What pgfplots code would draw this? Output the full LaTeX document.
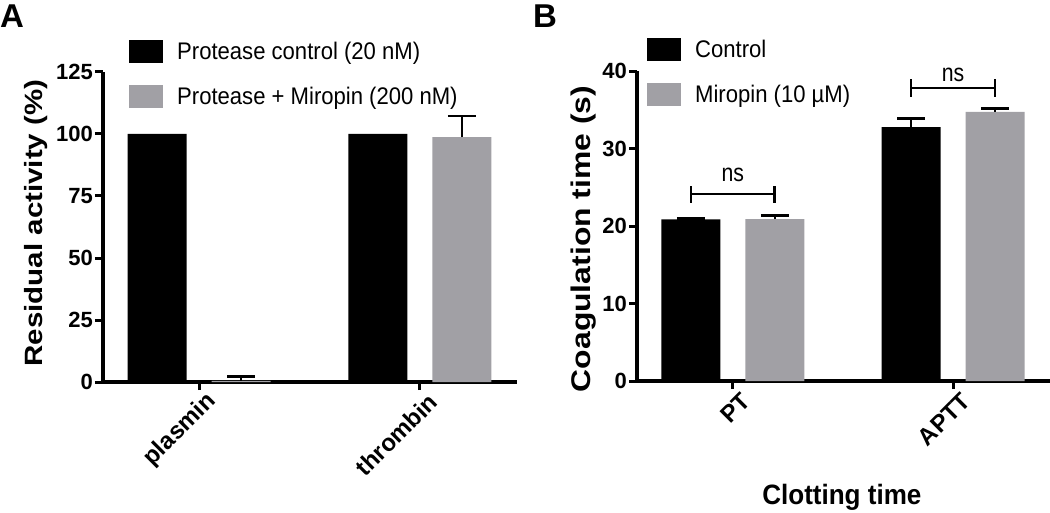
\documentclass[border=0pt]{standalone}
\usepackage{fontspec}
\usepackage{graphicx}
\setmainfont{Liberation Sans}
\newfontfamily\legfont{Liberation Sans}[FakeStretch=0.92]
\newfontfamily\nsfont{Liberation Sans}[FakeStretch=0.85]
\usepackage{pgfplots}
\pgfplotsset{compat=1.18}
\definecolor{barg}{RGB}{161,160,165}

\pgfplotsset{
  panel/.style={
    scale only axis,
    anchor=south west,
    axis x line*=bottom, axis y line*=left,
    axis line style={line width=4pt, -},
    every outer x axis line/.append style={line width=4pt},
    every outer y axis line/.append style={line width=4pt},
    tick align=outside, major tick length=8pt,
    tick style={line width=3pt, black},
    major tick style={line width=3pt, black},
    minor tick num=0,
    xmin=-0.435, xmax=1.44, ymin=0,
    xtick={0,1},
    ybar, bar width=59pt,
    clip=false,
    /pgf/number format/assume math mode=true,
    yticklabel style={font=\fontsize{22}{22}\selectfont\bfseries, inner sep=2pt},
    xticklabel style={font=\fontsize{24}{24}\selectfont\bfseries, rotate=45, anchor=east, inner sep=2pt, xshift=6pt, yshift=-15pt},
    legend cell align=left,
    legend style={draw=none, fill=none, at={(0,1)}, anchor=north west,
      font=\fontsize{24}{24}\selectfont\legfont, inner sep=0pt,
      column sep=14pt, row sep=22pt, nodes={inner sep=0pt}},
  },
  ebar/.style={error bars/.cd, y dir=plus, y explicit,
      error bar style={line width=2.5pt, black},
      error mark options={rotate=90, line width=2.5pt, black, mark size=14pt}},
  blackbar/.style={fill=black, draw=none, bar shift=-42pt,
      legend image code/.code={\fill[black] (0pt,-11.5pt) rectangle (34pt,11.5pt);}},
  graybar/.style={fill=barg, draw=none, bar shift=42pt,
      legend image code/.code={\fill[barg] (0pt,-11.5pt) rectangle (34pt,11.5pt);}},
}

\begin{document}
\begin{tikzpicture}
\useasboundingbox (0pt,0pt) rectangle (1050pt,512pt);
\node[anchor=base west, inner sep=0pt, font=\fontsize{33}{33}\selectfont\bfseries] at (0pt,484pt) {A};
\node[anchor=base west, inner sep=0pt, font=\fontsize{33}{33}\selectfont\bfseries] at (533pt,484pt) {B};

% Panel A
\begin{axis}[panel, at={(103pt,130pt)}, width=414pt, height=310pt,
  ymax=125, ytick={0,25,50,75,100,125},
  xticklabels={plasmin, thrombin},
  ylabel={\scalebox{1.18}[1]{Residual activity (\%)}},
  ylabel style={font=\fontsize{25}{25}\selectfont\bfseries, at={(axis description cs:-0.162,0.513)}, anchor=center},
  legend style={xshift=26pt, yshift=32pt},
]
\addplot[blackbar] coordinates {(0,100) (1,100)};
\addplot[graybar, ebar] coordinates {(0,0.5) +- (0,1.8) (1,98.7) +- (0,8.6)};
\legend{Protease control (20 nM), Protease + Miropin (200 nM)}
\end{axis}

% Panel B
\begin{axis}[panel, at={(637pt,131pt)}, width=413pt, height=310pt,
  ymax=40, ytick={0,10,20,30,40},
  xticklabels={PT, APTT},
  ylabel={\scalebox{1.18}[1]{Coagulation time (s)}},
  ylabel style={font=\fontsize{27}{27}\selectfont\bfseries, at={(axis description cs:-0.1295,0.458)}, anchor=center},
  xlabel={\scalebox{0.93}[1]{Clotting time}},
  xlabel style={font=\fontsize{28}{28}\selectfont\bfseries, at={(axis description cs:0.496,-0.4)}, anchor=base},
  legend style={xshift=10pt, yshift=33pt},
]
\addplot[blackbar, ebar] coordinates {(0,20.86) +- (0,0.13) (1,32.77) +- (0,1.12)};
\addplot[graybar, ebar] coordinates {(0,20.9) +- (0,0.43) (1,34.71) +- (0,0.43)};
\legend{Control, Miropin (10 µM)}
\draw[line width=2.5pt] (axis cs:-0.19,24.1) -- (axis cs:0.19,24.1);
\draw[line width=2.5pt] (axis cs:-0.19,23.0) -- (axis cs:-0.19,25.2);
\draw[line width=2.5pt] (axis cs:0.19,23.0) -- (axis cs:0.19,25.2);
\node[anchor=base, inner sep=0pt, font=\fontsize{25}{25}\selectfont\nsfont] at (axis cs:0,25.7) {ns};
\draw[line width=2.5pt] (axis cs:0.81,37.8) -- (axis cs:1.19,37.8);
\draw[line width=2.5pt] (axis cs:0.81,36.7) -- (axis cs:0.81,38.97);
\draw[line width=2.5pt] (axis cs:1.19,36.7) -- (axis cs:1.19,38.97);
\node[anchor=base, inner sep=0pt, font=\fontsize{25}{25}\selectfont\nsfont] at (axis cs:1,38.6) {ns};
\end{axis}
\end{tikzpicture}
\end{document}
